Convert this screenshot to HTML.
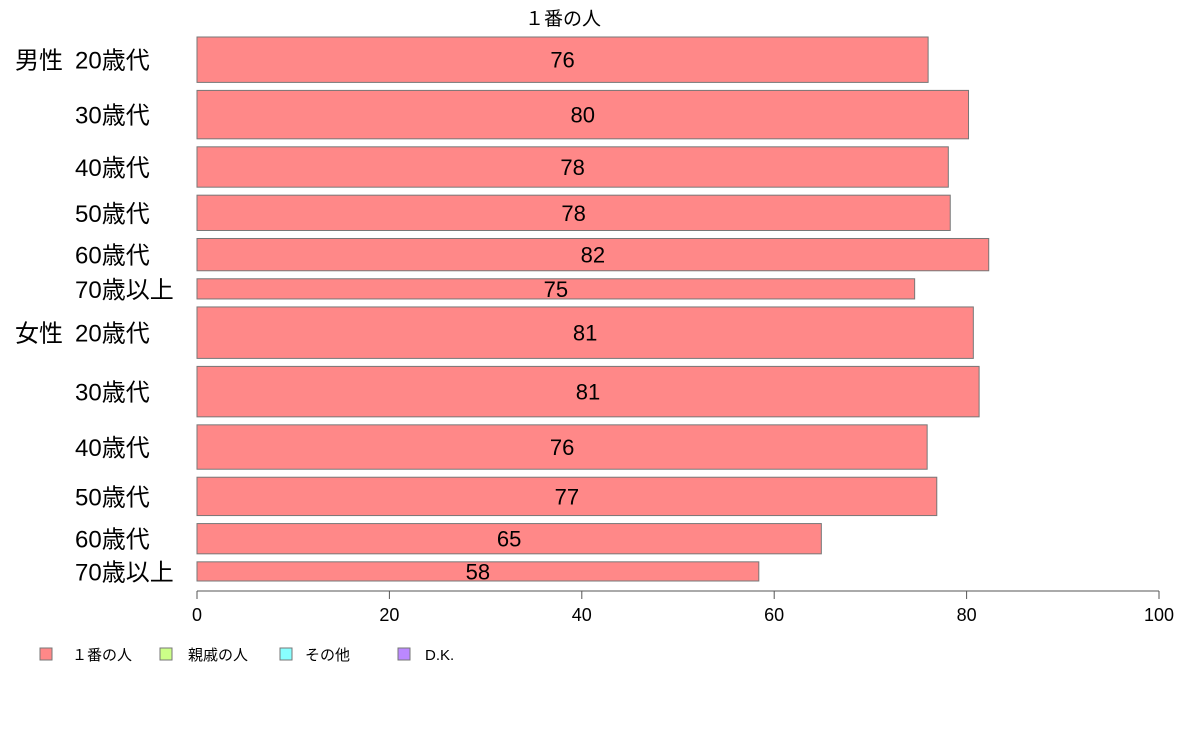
<!DOCTYPE html>
<html><head><meta charset="utf-8"><style>
body{margin:0;background:#fff;}
svg text{font-family:"Liberation Sans","Noto Sans CJK JP",sans-serif;}
</style></head><body>
<svg id="chart" width="1188" height="736">
<text x="563" y="25" text-anchor="middle" font-size="19">１番の人</text>
<g id="bars"></g>
<g id="ylabels"></g>
<g id="xaxis"></g>
<g font-size="15">
<g><rect x="40" y="648" width="12" height="12" fill="#ff8888" stroke="#777"/><text x="72" y="660">１番の人</text></g>
<g><rect x="160" y="648" width="12" height="12" fill="#ccff88" stroke="#777"/><text x="188" y="660">親戚の人</text></g>
<g><rect x="280" y="648" width="12" height="12" fill="#88ffff" stroke="#777"/><text x="305" y="660">その他</text></g>
<g><rect x="398" y="648" width="12" height="12" fill="#bb88ff" stroke="#777"/><text x="425" y="660">D.K.</text></g>
</g>
</svg>
<script>
const groups=["男性","","","","","","女性","","","","",""];
const categories=["20歳代","30歳代","40歳代","50歳代","60歳代","70歳以上","20歳代","30歳代","40歳代","50歳代","60歳代","70歳以上"];
const values=[76.0,80.2,78.1,78.3,82.3,74.6,80.7,81.3,75.9,76.9,64.9,58.4];
const weights=[45,48,40,35,32,20,51,50,44,38,30,19];
const ticks=[0,20,40,60,80,100];
const NS="http://www.w3.org/2000/svg";
const x0=197,x1=1159,yTop=37,yBot=581,gap=8;
const xs=v=>x0+(x1-x0)*v/100;
const totalW=weights.reduce((a,b)=>a+b,0);
const unit=(yBot-yTop-gap*(weights.length-1))/totalW;
function mk(t,a,p){const e=document.createElementNS(NS,t);for(const k in a)e.setAttribute(k,a[k]);p.appendChild(e);return e;}
const bars=document.getElementById('bars'),yl=document.getElementById('ylabels'),xa=document.getElementById('xaxis');
let y=yTop;
values.forEach((v,i)=>{
 const h=weights[i]*unit;
 const r=mk('rect',{x:xs(0),y:y,width:xs(v)-xs(0),height:h,fill:'#ff8888',stroke:'#777','stroke-width':1},bars);
 
 
 const t=mk('text',{x:xs(v/2),y:y+h/2+8,'text-anchor':'middle','font-size':22},bars);
 t.textContent=Math.round(v);
 
 
 const l=mk('text',{x:75,y:y+h/2+9,'font-size':24},yl);
 l.textContent=categories[i];
 
 
 if(groups[i]){
  const g=mk('text',{x:15,y:y+h/2+9,'font-size':24},yl);
  g.textContent=groups[i];
  
  
 }
 y+=h+gap;
});
mk('line',{x1:x0,x2:x1,y1:591,y2:591,stroke:'#555'},xa);
ticks.forEach(tv=>{
 mk('line',{x1:xs(tv),x2:xs(tv),y1:591,y2:599,stroke:'#555'},xa);
 const t=mk('text',{x:xs(tv),y:621,'text-anchor':'middle','font-size':18},xa);
 t.textContent=tv;
 
 
});
</script>
</body></html>
